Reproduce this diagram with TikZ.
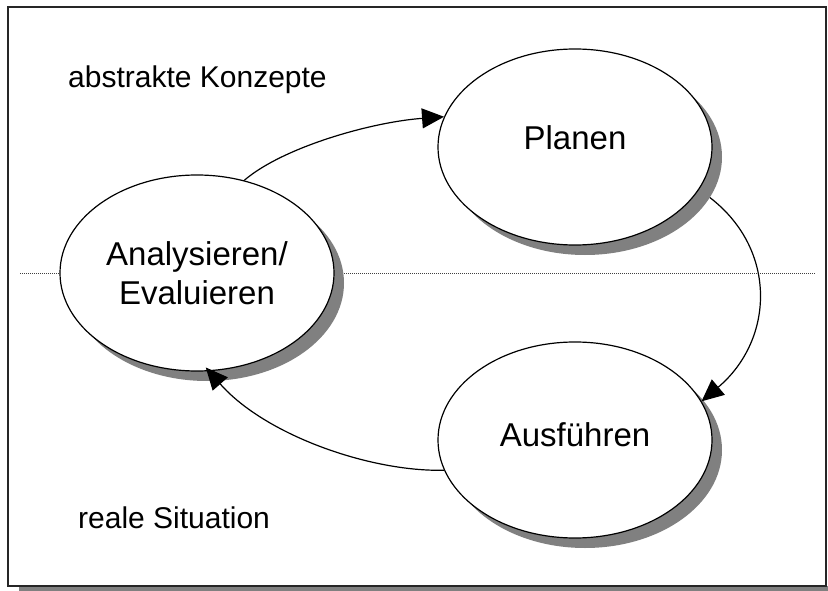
\documentclass[tikz,border=0pt]{standalone}
\usepackage{fontspec}
\setmainfont{Liberation Sans}
\usetikzlibrary{arrows.meta,shapes.geometric}
\definecolor{shd}{RGB}{128,128,128}
\begin{document}
\begin{tikzpicture}[x=1pt,y=-1pt,
  bub/.style={ellipse,draw=black,line width=1.2pt,fill=white,minimum width=274pt,minimum height=196pt,inner sep=0pt,font=\fontsize{33}{39}\selectfont,align=center},
  shad/.style={ellipse,fill=shd,minimum width=274pt,minimum height=196pt,inner sep=0pt},
  arr/.style={-{Triangle[length=22pt,width=20pt]},line width=1.2pt},
  lbl/.style={anchor=base west,inner sep=0pt,font=\fontsize{30}{36}\selectfont},
  divider/.style={line width=0.9pt,black!75,dash pattern=on 1pt off 1pt}]
\useasboundingbox (0,0) rectangle (828,591);
\fill[white] (0,0) rectangle (828,591);
% frame with shadow
\fill[shd] (19,586) rectangle (828,591);
\draw[line width=1.5pt,black!85] (8,7) rectangle (826,586);
% divider
\coordinate (dl) at (20,273);
\coordinate (dr) at (815,273);
\draw[divider] (dl) -- (dr);
% shadows
\node[shad] (pls) at (585,157) {};
\node[shad] (ans) at (207,283) {};
\node[shad] (aus) at (585,450) {};
% bubbles
\node[bub,text height=24pt,text depth=18pt] (pl) at (575,147) {Planen};
\node[bub] (an) at (197,273) {Analysieren/\\Evaluieren};
\node[bub,text height=24pt,text depth=12pt] (au) at (575,440) {Ausführen};
% arrows
\draw[arr] (an.63) .. controls (283,147) and (372,122) .. (pl.167);
\draw[arr] (pls.-18) .. controls (778,250) and (774,340) .. (au.17);
\draw[arr,shorten >=-5pt] (au.193) .. controls (370,472) and (265,435) .. (an.-83);
% labels
\node[lbl] (top) at (68,88) {abstrakte Konzepte};
\node[lbl] (bot) at (78,528) {reale Situation};
\end{tikzpicture}
\end{document}
